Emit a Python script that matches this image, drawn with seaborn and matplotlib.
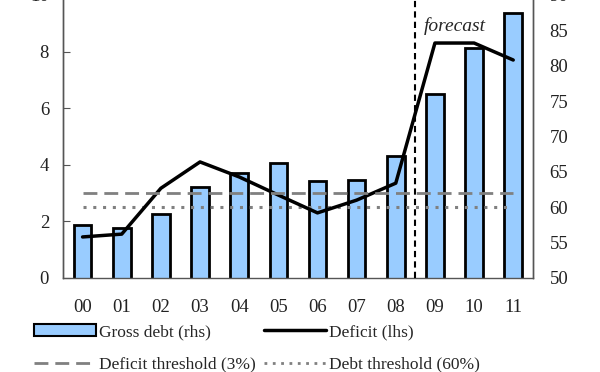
import numpy as np
import matplotlib
matplotlib.use("Agg")
import matplotlib.pyplot as plt
import seaborn as sns
from matplotlib.lines import Line2D
from matplotlib.patches import Patch
from matplotlib.ticker import MultipleLocator

# data
years = ["00", "01", "02", "03", "04", "05", "06", "07", "08", "09", "10", "11"]
gross_debt = [57.5, 57.0, 59.0, 62.8, 64.9, 66.3, 63.7, 63.8, 67.3, 76.0, 82.5, 87.5]
deficit = [1.45, 1.55, 3.17, 4.1, 3.57, 2.93, 2.3, 2.75, 3.35, 8.3, 8.3, 7.7]
deficit_threshold = 3
debt_threshold = 60
forecast_start = 8.5

sns.set_style("white")
plt.rcParams['font.family'] = ['Liberation Serif', 'DejaVu Serif']
plt.rcParams['font.size'] = 12

fig = plt.figure(figsize=(6, 3.72), dpi=100)
ax = fig.add_axes([0.105, 0.2527, 0.783, 0.761])

# bars on the main axes (right scale), line on the twin (left scale) so it sits on top
sns.barplot(x=years, y=gross_debt, ax=ax, color="#99ccff", saturation=1,
            width=0.45, edgecolor="black", linewidth=2)
ax.set_ylim(50, 90)
ax.set_xlim(-0.5, 11.5)
ax2 = ax.twinx()
ax.yaxis.tick_right()
ax.yaxis.set_major_locator(MultipleLocator(5))
ax2.yaxis.tick_left()
ax2.set_ylim(0, 10)
ax2.yaxis.set_major_locator(MultipleLocator(2))

x = np.arange(len(years))
sns.lineplot(x=x, y=deficit, ax=ax2, color="black", linewidth=2.5)
ax2.hlines(deficit_threshold, 0, len(years) - 1, colors="#808080", linestyles=(0, (5, 2.5)), linewidth=2)
ax.hlines(debt_threshold, 0, len(years) - 1.15, colors="#808080", linestyles=(0, (1, 2.2)), linewidth=2.2)
ax2.axvline(forecast_start, color="black", linestyle=(0, (3, 2)), linewidth=1.5)
ax2.text(forecast_start + 0.22, 8.6, "forecast", style="italic", fontsize=14, va="bottom")

for a in (ax, ax2):
    a.set_xlabel("")
    a.set_ylabel("")
    a.spines["top"].set_visible(False)
    for s in ("left", "right", "bottom"):
        a.spines[s].set_color("#555555")
        a.spines[s].set_linewidth(1)
ax2.spines["bottom"].set_visible(False)

ax.tick_params(axis="y", direction="in", length=0, pad=12, labelsize=13.5, colors="#222222")
ax2.tick_params(axis="y", direction="in", length=5, pad=10, labelsize=13.5, colors="#222222", color="#555555")
ax.tick_params(axis="x", which="major", length=0, pad=15, labelsize=13.5, colors="#222222")
ax.set_xticks(x - 0.5, minor=True)
ax.tick_params(axis="x", which="minor", direction="in", length=4, color="#555555")

handles = [
    Patch(facecolor="#99ccff", edgecolor="black", linewidth=1.5),
    Line2D([], [], color="#808080", linestyle=(0, (5, 2.5)), linewidth=2),
    Line2D([], [], color="black", linewidth=2.5),
    Line2D([], [], color="#808080", linestyle=(0, (1, 2)), linewidth=2),
]
labels = ["Gross debt (rhs)", "Deficit threshold (3%)", "Deficit (lhs)", "Debt threshold (60%)"]
fig.legend(handles, labels, ncol=2, loc="upper left", bbox_to_anchor=(0.045, 0.148),
           frameon=False, handlelength=3.6, handletextpad=0.15, columnspacing=0.45,
           labelspacing=0.95, fontsize=12.5, borderaxespad=0)

fig.savefig("out.png", dpi=100)
